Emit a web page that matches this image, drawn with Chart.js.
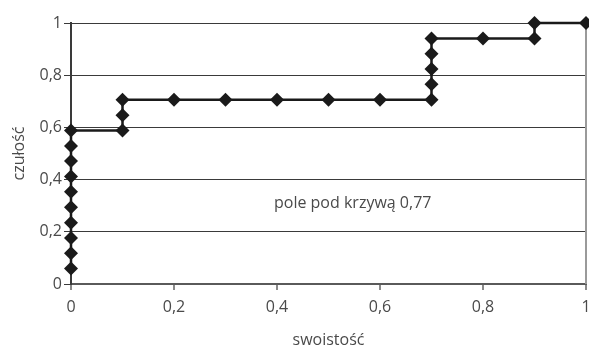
<!DOCTYPE html>
<html>
<head>
<meta charset="utf-8">
<script src="https://cdn.jsdelivr.net/npm/chart.js"></script>
<style>
  html, body { margin: 0; padding: 0; background: #fff; overflow: hidden; }
  #wrap { width: 593px; height: 352px; }
</style>
</head>
<body>
<div id="wrap"><canvas id="roc"></canvas></div>
<script>
// ROC curve points (x = swoistość axis, y = czułość)
const xValues = [0, 0, 0, 0, 0, 0, 0, 0, 0, 0,
                 0.1, 0.1, 0.1,
                 0.2, 0.3, 0.4, 0.5, 0.6,
                 0.7, 0.7, 0.7, 0.7, 0.7,
                 0.8, 0.9, 0.9, 1];
const yValues = [0.059, 0.118, 0.176, 0.235, 0.294, 0.353, 0.412, 0.471, 0.529, 0.588,
                 0.588, 0.647, 0.706,
                 0.706, 0.706, 0.706, 0.706, 0.706,
                 0.706, 0.765, 0.824, 0.882, 0.941,
                 0.941, 0.941, 1, 1];
const areaLabel = 'pole pod krzywą 0,77';
const areaLabelPos = [0.547, 0.31];

const fontFamily = '"Open Sans", "Noto Sans", sans-serif';
const textColor = '#4a4a4a';
const fmt = v => String(Math.round(v * 10) / 10).replace('.', ',');

const points = xValues.map((x, i) => ({x: x, y: yValues[i]}));

// right frame line + area text
const extras = {
  id: 'extras',
  beforeDatasetsDraw(chart) {
    const {ctx, chartArea} = chart;
    ctx.save();
    ctx.strokeStyle = '#9a9a9a';
    ctx.lineWidth = 2;
    ctx.beginPath();
    ctx.moveTo(chartArea.right, chartArea.top);
    ctx.lineTo(chartArea.right, chartArea.bottom);
    ctx.stroke();
    ctx.restore();
  },
  afterDatasetsDraw(chart) {
    const {ctx, scales} = chart;
    ctx.save();
    ctx.fillStyle = textColor;
    ctx.font = '16px ' + fontFamily;
    ctx.textAlign = 'center';
    ctx.textBaseline = 'middle';
    ctx.fillText(areaLabel, scales.x.getPixelForValue(areaLabelPos[0]), scales.y.getPixelForValue(areaLabelPos[1]));
    ctx.restore();
  }
};

new Chart(document.getElementById('roc'), {
  type: 'scatter',
  data: {
    datasets: [{
      data: points,
      showLine: true,
      clip: false,
      borderColor: '#1a1a1a',
      borderWidth: 2.5,
      backgroundColor: '#1a1a1a',
      pointStyle: 'rectRot',
      pointRadius: 7,
      pointHoverRadius: 7,
      pointBorderWidth: 0
    }]
  },
  options: {
    responsive: true,
    maintainAspectRatio: false,
    animation: false,
    layout: { padding: {left: 0, right: 0, top: 23, bottom: 0} },
    plugins: { legend: {display: false}, tooltip: {enabled: false} },
    scales: {
      x: {
        type: 'linear',
        min: 0, max: 1,
        afterFit(s) { s.height = 68; s.paddingLeft = 0; s.paddingRight = 0; },
        ticks: { stepSize: 0.2, padding: 8, color: textColor, font: {family: fontFamily, size: 16}, callback: fmt },
        grid: { drawOnChartArea: false, tickLength: 6, color: '#8a8a8a', lineWidth: 2 },
        border: { color: '#5a5a5a', width: 2 },
        title: { display: true, text: 'swoistość', color: textColor, font: {family: fontFamily, size: 16}, padding: {top: 0, bottom: 2} }
      },
      y: {
        type: 'linear',
        min: 0, max: 1,
        afterFit(s) { s.width = 71; s.paddingTop = 0; s.paddingBottom = 0; },
        ticks: { stepSize: 0.2, padding: 2, color: textColor, font: {family: fontFamily, size: 16}, callback: fmt },
        grid: { color: '#3a3a3a', lineWidth: 1, tickLength: 7 },
        border: { color: '#3a3a3a', width: 2 },
        title: { display: true, text: 'czułość', color: textColor, font: {family: fontFamily, size: 16}, padding: {top: 10, bottom: 0} }
      }
    }
  },
  plugins: [extras]
});
</script>
</body>
</html>
